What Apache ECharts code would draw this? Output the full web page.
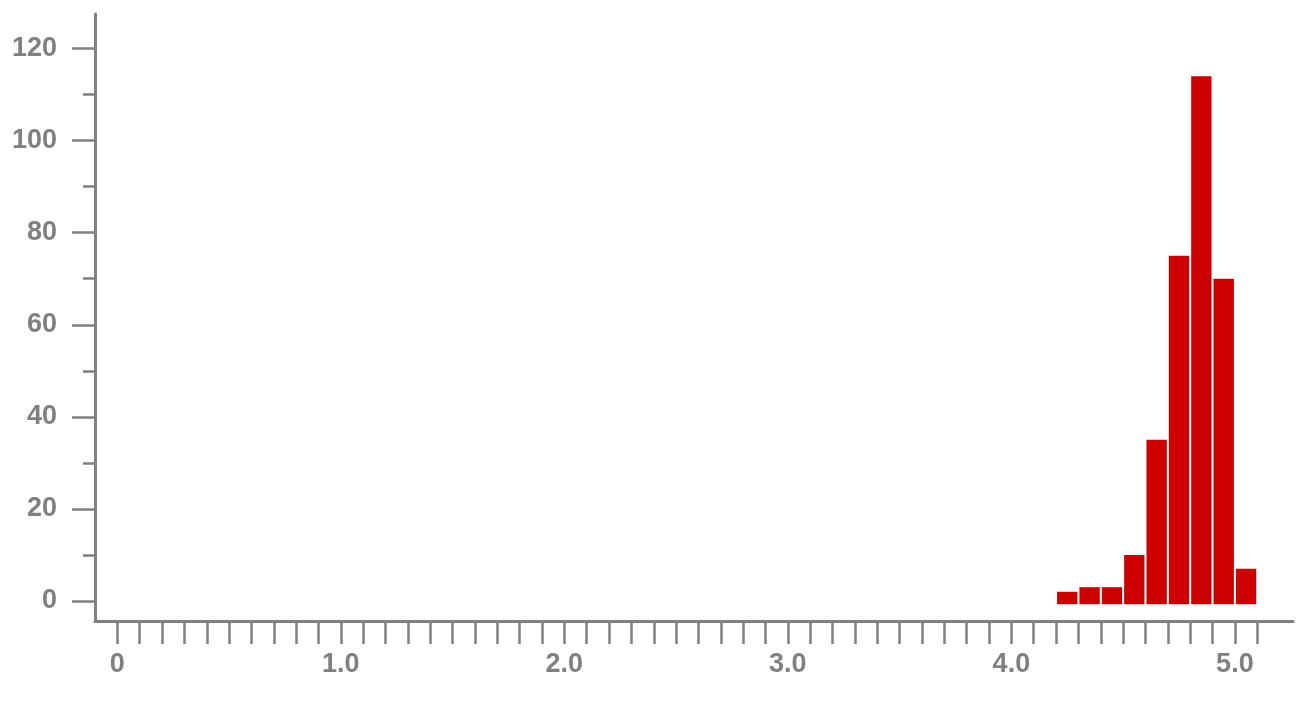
<!DOCTYPE html>
<html>
<head>
<meta charset="utf-8">
<title>histogram</title>
<script src="https://cdn.jsdelivr.net/npm/echarts@6/dist/echarts.min.js"></script>
<style>
    html, body { margin: 0; padding: 0; background: #fff; }
    #chart { width: 1304px; height: 704px; }
</style>
</head>
<body>
<div id="chart"></div>
<script>
// 直方图分箱起点 (每箱宽 0.1)
const binStarts = [4.2, 4.3, 4.4, 4.5, 4.6, 4.7, 4.8, 4.9, 5.0];
// 每箱计数
const binCounts = [2, 3, 3, 10, 35, 75, 114, 70, 7];
const binWidth = 0.1;

// 刻度
const yMajorTicks = [0, 20, 40, 60, 80, 100, 120];
const yMinorTicks = [10, 30, 50, 70, 90, 110];
const xLabelTicks = [0, 1, 2, 3, 4, 5];
const xTicks = [];
for (let i = 0; i <= 51; i++) {
    xTicks.push(i / 10);
}

const axisColor = '#808080';
const barColor = '#cc0000';
const labelFont = {
    color: axisColor,
    fontSize: 27,
    fontWeight: 'bold',
    fontFamily: '"Liberation Sans", Arial, sans-serif'
};

const chart = echarts.init(document.getElementById('chart'));

/**
 * 画一个直方图柱子
 */
function renderBar(params, api) {
    const x0 = api.value(0);
    const top = api.coord([x0, api.value(1)]);
    const bottom = api.coord([x0 + binWidth, -0.7]);
    return {
        type: 'rect',
        shape: {
            x: top[0] + 1,
            y: top[1],
            width: bottom[0] - top[0] - 2,
            height: bottom[1] - top[1]
        },
        style: { fill: barColor }
    };
}

chart.setOption({
    animation: false,
    grid: { left: 95, right: 11, top: 14, bottom: 83 },
    xAxis: {
        type: 'value',
        min: -0.1,
        max: 5.26,
        splitLine: { show: false },
        axisLine: { onZero: false, lineStyle: { color: axisColor, width: 3 } },
        axisTick: {
            customValues: xTicks,
            length: 23,
            lineStyle: { color: axisColor, width: 2.5 }
        },
        axisLabel: Object.assign({
            customValues: xLabelTicks,
            margin: 30,
            formatter: v => v === 0 ? '0' : v.toFixed(1)
        }, labelFont)
    },
    yAxis: [{
        type: 'value',
        min: -4.35,
        max: 127.5,
        position: 'left',
        splitLine: { show: false },
        axisLine: { show: true, onZero: false, lineStyle: { color: axisColor, width: 3 } },
        axisTick: {
            customValues: yMajorTicks,
            length: 23,
            lineStyle: { color: axisColor, width: 2.5 }
        },
        axisLabel: Object.assign({
            customValues: yMajorTicks,
            margin: 38
        }, labelFont)
    }, {
        type: 'value',
        min: -4.35,
        max: 127.5,
        position: 'left',
        offset: 0,
        splitLine: { show: false },
        axisLine: { show: false, onZero: false },
        axisTick: {
            customValues: yMinorTicks,
            length: 12,
            lineStyle: { color: axisColor, width: 2.5 }
        },
        axisLabel: { show: false }
    }],
    series: [{
        type: 'custom',
        renderItem: renderBar,
        encode: { x: 0, y: 1 },
        data: binStarts.map((s, i) => [s, binCounts[i]])
    }]
});
</script>
</body>
</html>
